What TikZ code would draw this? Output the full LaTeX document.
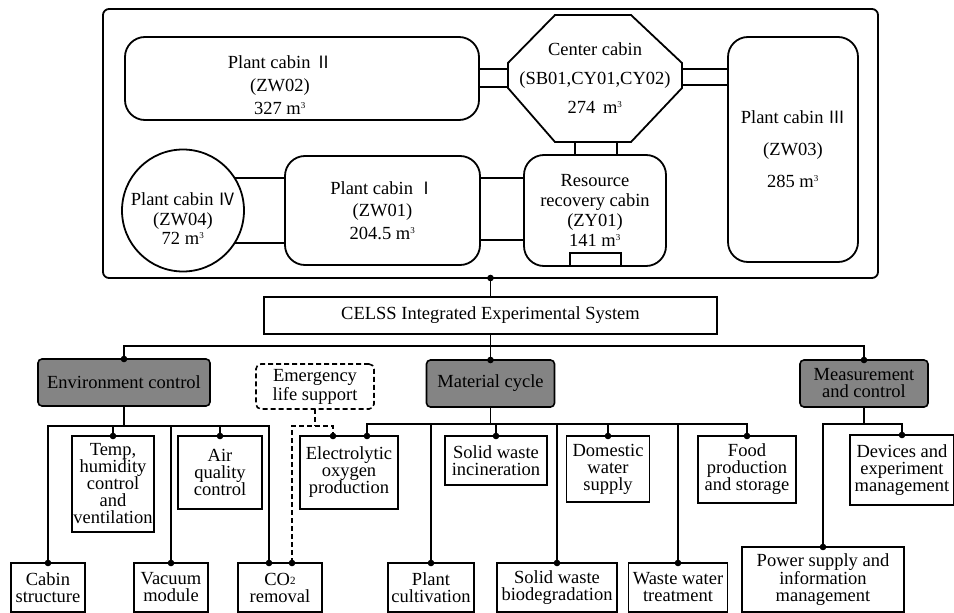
\documentclass[tikz,border=0pt]{standalone}
\usepackage{fontspec}
\setmainfont{Liberation Serif}
\newfontfamily\cjk{Noto Sans CJK SC}
\usepackage{xcolor}

\definecolor{groupgray}{RGB}{132,132,132}
\newcommand{\mcube}{m\textsuperscript{\fontsize{9}{9}\selectfont 3}}
\newcommand{\rnum}[1]{{\cjk\fontsize{17}{17}\selectfont #1}}
\newcommand{\cotwo}{CO\raisebox{1pt}{\fontsize{11}{11}\selectfont 2}}

\tikzset{
	cabin/.style={draw, line width=1.8pt, rounded corners=20pt, inner sep=0pt, outer sep=0pt},
	cabtext/.style={align=center, font=\fontsize{18.5}{#1}\selectfont},
	link/.style={line width=1.8pt},
	unit/.style={draw, line width=1.6pt, align=center, inner sep=1pt, outer sep=0pt, font=\fontsize{18.5}{17}\selectfont},
	group/.style={unit, fill=groupgray, rounded corners=4pt},
	emerg/.style={unit, dash pattern=on 5pt off 3pt, rounded corners=5pt}
}

\begin{document}
\begin{tikzpicture}[x=1pt, y=-1pt]
	\useasboundingbox (0,0) rectangle (954,613);

	% Define the cabins of the platform
	\begin{scope}
		\node[cabin, rounded corners=6pt, minimum width=775, minimum height=269] (base) at (490.5,143.5) {};

		\node[cabin, minimum width=354, minimum height=83] (pcii) at (302,78.5) {};
		\node[cabtext=23] (pciitext) at (280,85) {Plant cabin \rnum{Ⅱ}\\(ZW02)\\327 \mcube};

		\node[cabtext=29, inner sep=0pt, outer sep=0pt, minimum width=174, minimum height=127] (cc) at (595,78.5) {Center cabin\\(SB01,CY01,CY02)\\274\, \mcube};
		\draw[link] ([xshift=47pt]cc.north west) -- ([xshift=-51pt]cc.north east) -- ([yshift=-48pt]cc.north east) -- ([yshift=54pt]cc.south east) -- ([xshift=-51pt]cc.south east) -- ([xshift=47pt]cc.south west) -- ([yshift=54pt]cc.south west) -- ([yshift=-48pt]cc.north west) -- cycle;

		\node[cabin, cabtext=32, minimum width=130, minimum height=225] (pciii) at (793,149.5) {Plant cabin \rnum{Ⅲ}\\(ZW03)\\285 \mcube};

		\node[cabin, circle, minimum size=122] (pciv) at (183,210.5) {};
		\node[cabtext=19.5] (pcivtext) at (183,219) {Plant cabin \rnum{Ⅳ}\\(ZW04)\\72 \mcube};

		\node[cabin, cabtext=22.5, minimum width=195, minimum height=109] (pci) at (382.5,210.5) {Plant cabin \rnum{Ⅰ}\\(ZW01)\\204.5 \mcube};

		\node[cabin, cabtext=20, minimum width=142, minimum height=111] (rr) at (595,210.5) {Resource\\recovery cabin\\(ZY01)\\141 \mcube};
		\draw[link] ([xshift=-25pt]rr.south) rectangle ([xshift=26pt, yshift=13pt]rr.south);

		% Draw the passages between the cabins
		\draw[link] ([yshift=9.5pt]pcii.east) -- ([yshift=9.5pt]cc.west);
		\draw[link] ([yshift=-8.5pt]pcii.east) -- ([yshift=-8.5pt]cc.west);
		\coordinate (ccea) at ([yshift=9.5pt]cc.east);
		\coordinate (cceb) at ([yshift=-6.5pt]cc.east);
		\draw[link] (ccea) -- (ccea -| pciii.west);
		\draw[link] (cceb) -- (cceb -| pciii.west);
		\draw[link] ([xshift=-20pt]cc.south) -- ([xshift=-20pt]rr.north);
		\draw[link] ([xshift=22pt]cc.south) -- ([xshift=22pt]rr.north);
		\draw[link] ([yshift=32.5pt]pci.east) -- ([yshift=32.5pt]rr.west);
		\draw[link] ([yshift=-29.5pt]pci.east) -- ([yshift=-29.5pt]rr.west);
		\draw[link] (pciv.32) -- (pciv.32 -| pci.west);
		\draw[link] (pciv.-32) -- (pciv.-32 -| pci.west);
	\end{scope}

	% Define the system tree
	\begin{scope}
		\node[unit, minimum width=453, minimum height=37] (celss) at (490.5,315.5) {CELSS Integrated Experimental System};

		\node[group, minimum width=172, minimum height=47] (env) at (124,382.5) {Environment control};
		\node[group, minimum width=128, minimum height=47] (mat) at (490.5,383.5) {Material cycle};
		\node[group, minimum width=128, minimum height=47] (meas) at (864,383.5) {Measurement\\and control};
		\node[emerg, font=\fontsize{18.5}{19}\selectfont, minimum width=118, minimum height=45] (emg) at (315,386.5) {Emergency\\life support};

		% Environment control units
		\node[unit, minimum width=74, minimum height=49] (cabst) at (48,587.5) {Cabin\\structure};
		\node[unit, minimum width=82, minimum height=96] (thv) at (113,484) {Temp,\\humidity\\control\\and\\ventilation};
		\node[unit, minimum width=74, minimum height=49] (vac) at (171,587.5) {Vacuum\\module};
		\node[unit, minimum width=84, minimum height=73] (aqc) at (220,472.5) {Air\\quality\\control};
		\node[unit, minimum width=84, minimum height=49] (co2) at (280,587.5) {\cotwo\\removal};

		% Material cycle units
		\node[unit, minimum width=98, minimum height=73] (eop) at (349,472.5) {Electrolytic\\oxygen\\production};
		\node[unit, minimum width=86, minimum height=49] (pcult) at (431,587.5) {Plant\\cultivation};
		\node[unit, minimum width=102, minimum height=49] (swi) at (496,460.5) {Solid waste\\incineration};
		\node[unit, minimum width=120, minimum height=49] (swb) at (557,587.5) {Solid waste\\biodegradation};
		\node[unit, minimum width=83, minimum height=66] (dws) at (608,469) {Domestic\\water\\supply};
		\node[unit, minimum width=99, minimum height=49] (wwt) at (678,587.5) {Waste water\\treatment};
		\node[unit, minimum width=98, minimum height=67] (fps) at (747,469.5) {Food\\production\\and storage};

		% Measurement and control units
		\node[unit, minimum width=104, minimum height=70] (dem) at (902,470) {Devices and\\experiment\\management};
		\node[unit, minimum width=162, minimum height=65] (psi) at (823,579.5) {Power supply and\\information\\management};

		% Draw the tree lines
		\coordinate (sysbus) at (490.5,346);
		\draw[link] (base.south) -- (celss.north);
		\draw[link] (celss.south) -- (sysbus);
		\draw[link] (env.north) |- (sysbus) -| (meas.north);
		\draw[link] (sysbus) -- (mat.north);

		\coordinate (envbus) at (124,426);
		\coordinate (co2l) at ([xshift=-11pt]co2.north);
		\coordinate (co2r) at ([xshift=12pt]co2.north);
		\draw[link] (env.south) -- (envbus);
		\draw[link] (cabst.north) |- (envbus) -| (co2l);
		\draw[link] (thv.north) -- (thv.north |- envbus);
		\draw[link] (vac.north) -- (vac.north |- envbus);
		\draw[link] (aqc.north) -- (aqc.north |- envbus);

		\coordinate (matbus) at (490.5,424);
		\coordinate (eopl) at ([xshift=-16pt]eop.north);
		\coordinate (eopr) at ([xshift=18pt]eop.north);
		\draw[link] (mat.south) -- (matbus);
		\draw[link] (eopr) |- (matbus) -| (fps.north);
		\draw[link] (pcult.north) -- (pcult.north |- matbus);
		\draw[link] (swi.north) -- (swi.north |- matbus);
		\draw[link] (swb.north) -- (swb.north |- matbus);
		\draw[link] (dws.north) -- (dws.north |- matbus);
		\draw[link] (wwt.north) -- (wwt.north |- matbus);

		\coordinate (measbus) at (864,424);
		\draw[link] (meas.south) -- (measbus);
		\draw[link] (psi.north) |- (measbus) -| (dem.north);

		\coordinate (emgbus) at (315,426);
		\draw[link, dash pattern=on 5pt off 3pt] (emg.south) -- (emgbus);
		\draw[link, dash pattern=on 5pt off 3pt] (co2r) |- (emgbus) -| (eopl);

		% Junction dots
		\fill (base.south) circle (3.3pt);
		\fill (env.north) circle (3.3pt);
		\fill (mat.north) circle (3.3pt);
		\fill (meas.north) circle (3.3pt);
		\fill (cabst.north) circle (3.3pt);
		\fill (thv.north) circle (3.3pt);
		\fill (vac.north) circle (3.3pt);
		\fill (aqc.north) circle (3.3pt);
		\fill (co2l) circle (3.3pt);
		\fill (co2r) circle (3.3pt);
		\fill (eopl) circle (3.3pt);
		\fill (eopr) circle (3.3pt);
		\fill (pcult.north) circle (3.3pt);
		\fill (swi.north) circle (3.3pt);
		\fill (swb.north) circle (3.3pt);
		\fill (dws.north) circle (3.3pt);
		\fill (wwt.north) circle (3.3pt);
		\fill (fps.north) circle (3.3pt);
		\fill (dem.north) circle (3.3pt);
		\fill (psi.north) circle (3.3pt);
	\end{scope}
\end{tikzpicture}
\end{document}
